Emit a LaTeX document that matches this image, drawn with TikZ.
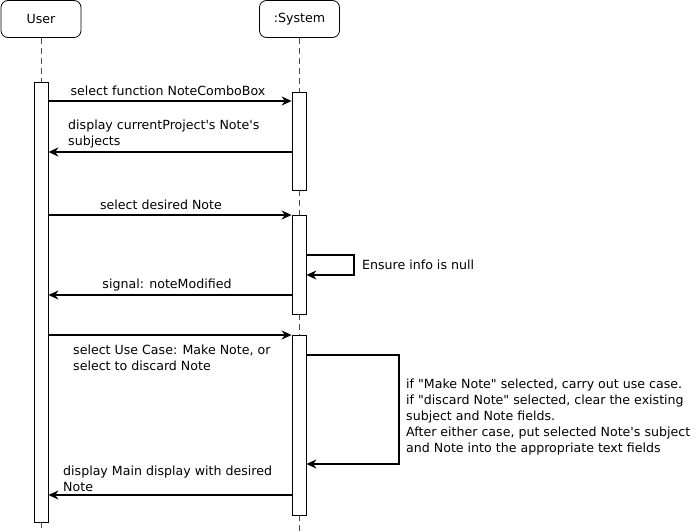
\documentclass[tikz,border=0pt]{standalone}
\usepackage{fontspec}
\setmainfont{DejaVu Sans}[Ligatures=TeXOff]
\usetikzlibrary{arrows.meta,positioning,calc}
\tikzset{
  lifehead/.style={draw,thick,rounded corners=7pt,minimum width=80pt,minimum height=37pt,
    inner sep=0pt,font=\fontsize{12.6}{16}\selectfont},
  actbox/.style={draw,thick,fill=white,minimum width=14pt,inner sep=0pt},
  lifeline/.style={draw=black!70,line width=0.9pt,dash pattern=on 6pt off 4pt},
  msgarrow/.style={-{Stealth[length=10pt,width=9pt]},line width=1.2pt},
  msglabel/.style={font=\fontsize{12.6}{16}\selectfont,align=left,inner sep=0pt}
}

\begin{document}
\begin{tikzpicture}[x=1pt,y=-1pt]
  \useasboundingbox (0,0) rectangle (696,532);
  % heads
  \node[lifehead] (user) at (41,19) {User};
  \node[lifehead] (sys) at (299.5,19) {:System};
  % activations
  \node[actbox,minimum height=440pt] (ua) at (41,302) {};
  \node[actbox,minimum height=98pt] (sa1) at (299,141) {};
  \node[actbox,minimum height=99pt] (sa2) at (299,264.5) {};
  \node[actbox,minimum height=180pt] (sa3) at (299,425) {};
  \coordinate (uend) at (41,532);
  \coordinate (send) at (299,532);
  % lifelines
  \draw[lifeline] (user.south) -- (ua.north);
  \draw[lifeline] (ua.south) -- (uend);
  \draw[lifeline] (sys.south -| sa1.north) -- (sa1.north);
  \draw[lifeline] (sa1.south) -- (sa2.north);
  \draw[lifeline] (sa2.south) -- (sa3.north);
  \draw[lifeline] (sa3.south) -- (send);
  % message heights
  \coordinate (m1) at (0,101);
  \coordinate (m2) at (0,152);
  \coordinate (m3) at (0,215);
  \coordinate (m4) at (0,295);
  \coordinate (m5) at (0,335);
  \coordinate (m6) at (0,495);
  % messages
  \draw[msgarrow] (ua.east |- m1) -- (sa1.west |- m1);
  \node[msglabel,anchor=base] (l1) at (168,96) {select function NoteComboBox};
  \draw[msgarrow] (sa1.west |- m2) -- (ua.east |- m2);
  \node[msglabel,anchor=base west] (l2) at (68,146) {display currentProject's Note's\\subjects};
  \draw[msgarrow] (ua.east |- m3) -- (sa2.west |- m3);
  \node[msglabel,anchor=base] (l3) at (161,209) {select desired Note};
  % self call
  \coordinate (c1) at (354,255);
  \coordinate (c2) at (354,275);
  \draw[msgarrow] (sa2.east |- c1) -- (c1) -- (c2) -- (sa2.east |- c2);
  \node[msglabel,anchor=west] (l4) at (362,265) {Ensure info is null};
  \draw[msgarrow] (sa2.west |- m4) -- (ua.east |- m4);
  \node[msglabel,anchor=base] (l5) at (167,288) {signal: noteModified};
  \draw[msgarrow] (ua.east |- m5) -- (sa3.west |- m5);
  \node[msglabel,anchor=base west] (l6) at (73,370) {select Use Case: Make Note, or\\select to discard Note};
  % second self call
  \coordinate (c3) at (399,355);
  \coordinate (c4) at (399,464);
  \draw[msgarrow] (sa3.east |- c3) -- (c3) -- (c4) -- (sa3.east |- c4);
  \node[msglabel,anchor=base west] (l7) at (406,452) {if "Make Note" selected, carry out use case.\\
    if "discard Note" selected, clear the existing\\subject and Note fields.\\
    After either case, put selected Note's subject\\and Note into the appropriate text fields};
  \draw[msgarrow] (sa3.west |- m6) -- (ua.east |- m6);
  \node[msglabel,anchor=base west] (l8) at (63,491) {display Main display with desired\\Note};
\end{tikzpicture}
\end{document}
